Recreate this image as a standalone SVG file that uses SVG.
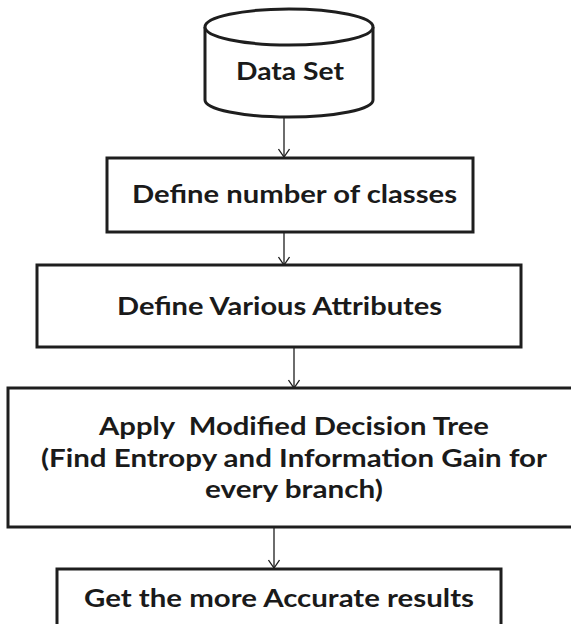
<svg xmlns="http://www.w3.org/2000/svg" width="571" height="624" viewBox="0 0 571 624">
<style>
.box{fill:#fff;stroke:#1e1e1e;stroke-width:3}
.t{font-family:"Lato","Open Sans","Liberation Sans",sans-serif;font-weight:bold;font-size:24px;fill:#1a1a1a;text-anchor:middle;white-space:pre}
.c{stroke:#1e1e1e;stroke-width:1.3;fill:none}
</style>
<defs>
<marker id="arr" viewBox="0 0 10 12" refX="9" refY="6" markerWidth="10" markerHeight="12" markerUnits="userSpaceOnUse" orient="auto">
<path d="M1,0.5 L9,6 L1,11.5" fill="none" stroke="#1e1e1e" stroke-width="1.3"/>
</marker>
</defs>
<rect width="571" height="624" fill="#fff"/>
<g id="connectors">
<line class="c" x1="284" y1="117" x2="284" y2="157" marker-end="url(#arr)"/>
<line class="c" x1="284" y1="225" x2="284" y2="265" marker-end="url(#arr)"/>
<line class="c" x1="294" y1="347" x2="294" y2="388" marker-end="url(#arr)"/>
<line class="c" x1="274" y1="527" x2="274" y2="568" marker-end="url(#arr)"/>
</g>
<g id="dataset">
<path class="box" d="M205,27 L205,100 A84,17 0 0 0 373,100 L373,27"/>
<ellipse class="box" cx="289" cy="27" rx="84" ry="18"/>
<text class="t" x="290" y="80" textLength="108" lengthAdjust="spacingAndGlyphs">Data Set</text>
</g>
<g id="classes">
<rect class="box" x="107" y="158" width="366" height="74"/>
<text class="t" x="294.5" y="203" textLength="325" lengthAdjust="spacingAndGlyphs">Define number of classes</text>
</g>
<g id="attributes">
<rect class="box" x="37" y="265" width="484" height="82"/>
<text class="t" x="279.5" y="315" textLength="325" lengthAdjust="spacingAndGlyphs">Define Various Attributes</text>
</g>
<g id="tree">
<rect class="box" x="8" y="388" width="575" height="139"/>
<text class="t" x="294" y="435" textLength="390" lengthAdjust="spacingAndGlyphs" xml:space="preserve">Apply  Modified Decision Tree</text>
<text class="t" x="294" y="467" textLength="506" lengthAdjust="spacingAndGlyphs">(Find Entropy and Information Gain for</text>
<text class="t" x="294" y="498" textLength="178" lengthAdjust="spacingAndGlyphs">every branch)</text>
</g>
<g id="results">
<rect class="box" x="57" y="569" width="444" height="70"/>
<text class="t" x="279" y="607" textLength="390" lengthAdjust="spacingAndGlyphs">Get the more Accurate results</text>
</g>
</svg>
